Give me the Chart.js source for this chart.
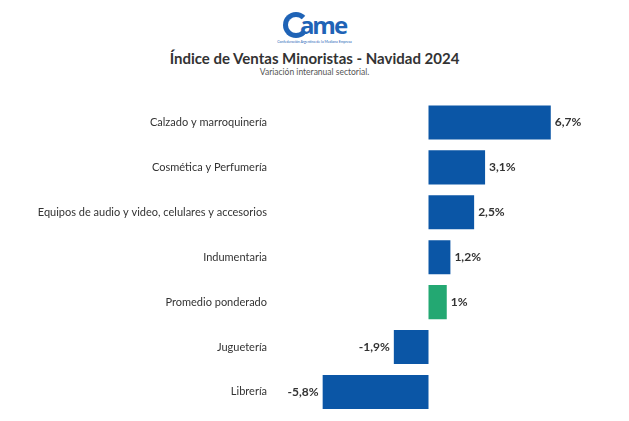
<!DOCTYPE html>
<html lang="es">
<head>
<meta charset="utf-8">
<script src="https://cdn.jsdelivr.net/npm/chart.js"></script>
<style>
  html, body { margin:0; padding:0; background:#fff; }
  body { width:629px; height:421px; position:relative; overflow:hidden; font-family:Lato, "Open Sans", sans-serif; }
  #logo { position:absolute; left:0; width:629px; top:12px; text-align:center; }
  #logo .marca { font-family:"Open Sans", sans-serif; font-weight:700; font-size:24px; color:#1f63b6; letter-spacing:-2px; line-height:26px; }
  #logo .marca span { display:inline-block; border:5px solid #1f63b6; border-radius:50%; width:16px; height:16px; font-size:0; vertical-align:-4px; margin-right:-9px; border-right-color:transparent; }
  #logo .sub { font-size:3.5px; color:#1f63b6; margin-top:2px; }
  #titulo { position:absolute; left:0; width:629px; top:49px; text-align:center; font-weight:700; font-size:15px; color:#333; }
  #subtitulo { position:absolute; left:0; width:629px; top:67px; text-align:center; font-size:8.5px; color:#555; }
  #wrap { position:absolute; left:0; top:0; width:629px; height:421px; }
</style>
</head>
<body>
<div id="logo"><div class="marca"><span></span>ame</div><div class="sub">Confederación Argentina de la Mediana Empresa</div></div>
<div id="titulo">Índice de Ventas Minoristas - Navidad 2024</div>
<div id="subtitulo">Variación interanual sectorial.</div>
<div id="wrap"><canvas id="grafica" width="629" height="421"></canvas></div>
<script>
// rubros y variación interanual (%)
const rubros = [
  "Calzado y marroquinería",
  "Cosmética y Perfumería",
  "Equipos de audio y video, celulares y accesorios",
  "Indumentaria",
  "Promedio ponderado",
  "Juguetería",
  "Librería"
];
const variacion = [6.7, 3.1, 2.5, 1.2, 1, -1.9, -5.8];
const etiquetas = ["6,7%", "3,1%", "2,5%", "1,2%", "1%", "-1,9%", "-5,8%"];

const azul = "#0b56a6";
const verde = "#23a872";
const colores = rubros.map(r => r === "Promedio ponderado" ? verde : azul);

// etiquetas de valor al costado de cada barra
const etiquetasValor = {
  id: "etiquetasValor",
  afterDatasetsDraw(chart) {
    const ctx = chart.ctx;
    const meta = chart.getDatasetMeta(0);
    ctx.save();
    ctx.font = "bold 12px Lato, 'Open Sans', sans-serif";
    ctx.fillStyle = "#333";
    ctx.textBaseline = "middle";
    meta.data.forEach((bar, i) => {
      const v = variacion[i];
      if (v >= 0) {
        ctx.textAlign = "left";
        ctx.fillText(etiquetas[i], bar.x + 4, bar.y);
      } else {
        ctx.textAlign = "right";
        ctx.fillText(etiquetas[i], bar.x - 4, bar.y);
      }
    });
    ctx.restore();
  }
};

new Chart(document.getElementById("grafica"), {
  type: "bar",
  data: {
    labels: rubros,
    datasets: [{
      data: variacion,
      backgroundColor: colores,
      borderWidth: 0,
      categoryPercentage: 1,
      barPercentage: 0.76
    }]
  },
  options: {
    indexAxis: "y",
    responsive: false,
    animation: false,
    devicePixelRatio: 1,
    layout: { padding: { top: 100, bottom: 5, right: 18, left: 0 } },
    plugins: { legend: { display: false }, tooltip: { enabled: false } },
    scales: {
      x: { display: false, min: -8.85, max: 10 },
      y: {
        grid: { display: false, drawTicks: false },
        border: { display: false },
        ticks: { color: "#333", padding: 0, font: { family: "Lato", size: 11 } },
        afterFit(scale) { scale.width = 267; }
      }
    }
  },
  plugins: [etiquetasValor]
});
</script>
</body>
</html>
